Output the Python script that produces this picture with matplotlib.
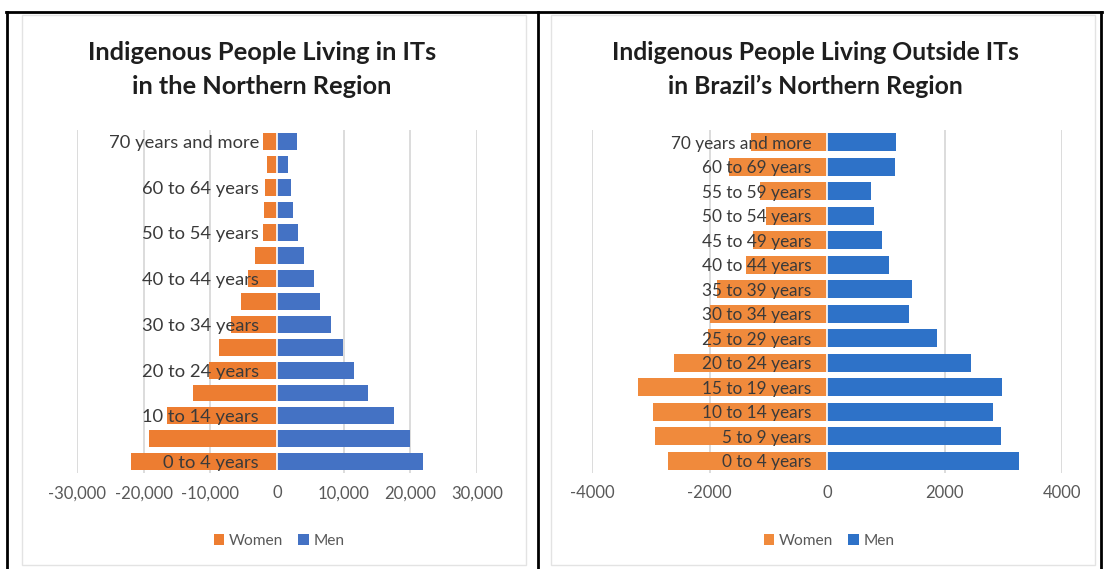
import numpy as np
import matplotlib
matplotlib.use("Agg")
import matplotlib.pyplot as plt
from matplotlib.lines import Line2D
from matplotlib.patches import Rectangle
from matplotlib.ticker import FuncFormatter

plt.rcParams['font.family'] = ['Lato', 'DejaVu Sans']

# --- data ---
its_ages = ["0 to 4 years", "5 to 9 years", "10 to 14 years", "15 to 19 years",
            "20 to 24 years", "25 to 29 years", "30 to 34 years", "35 to 39 years",
            "40 to 44 years", "45 to 49 years", "50 to 54 years", "55 to 59 years",
            "60 to 64 years", "65 to 69 years", "70 years and more"]
its_women = [21850, 19150, 16500, 12650, 10250, 8750, 6850, 5400,
             4300, 3300, 2150, 1900, 1800, 1450, 2150]
its_men = [21850, 19950, 17500, 13600, 11600, 9900, 8150, 6400,
           5500, 4050, 3100, 2450, 2100, 1600, 2950]

out_ages = ["0 to 4 years", "5 to 9 years", "10 to 14 years", "15 to 19 years",
            "20 to 24 years", "25 to 29 years", "30 to 34 years", "35 to 39 years",
            "40 to 44 years", "45 to 49 years", "50 to 54 years", "55 to 59 years",
            "60 to 69 years", "70 years and more"]
out_women = [2700, 2930, 2955, 3210, 2600, 2020, 2000, 1880,
             1380, 1265, 1030, 1140, 1660, 1290]
out_men = [3260, 2955, 2830, 2985, 2450, 1870, 1400, 1440,
           1060, 930, 800, 750, 1160, 1170]

W, H = 1104, 569
fig = plt.figure(figsize=(W / 100, H / 100), dpi=100)


def fx(px):
    return px / W


def fy(py):
    return 1 - py / H


def draw_pyramid(ax, ages, women, men, colors, xmax, step, fmt, label_step, pad, lsize):
    y = np.arange(len(ages))
    ax.barh(y, [-w for w in women], height=0.74, color=colors[0], label='Women', zorder=2)
    ax.barh(y, men, height=0.74, color=colors[1], label='Men', zorder=2)
    ax.set_xlim(-xmax, xmax)
    ax.set_ylim(-0.5, len(ages) - 0.5)
    ticks = np.arange(-xmax, xmax + 1, step)
    ax.set_xticks(ticks)
    ax.xaxis.set_major_formatter(FuncFormatter(fmt))
    for t in ticks:
        if t != 0:
            ax.axvline(t, color='#d9d9d9', lw=1.3, zorder=0)
    for s in ['top', 'right', 'bottom']:
        ax.spines[s].set_visible(False)
    ax.set_axisbelow(False)  # category labels sit on top of the bars
    ax.spines['left'].set_position(('data', 0))
    ax.spines['left'].set_color('white')
    ax.spines['left'].set_linewidth(1.2)
    ax.set_yticks(y[::label_step], ages[::label_step])
    ax.tick_params(axis='y', length=0, pad=pad, labelsize=lsize, labelcolor='#3a3a3a')
    ax.tick_params(axis='x', length=0, pad=9, labelsize=12, labelcolor='#595959')
    ax.set_facecolor('none')


# chart boxes (light grey frames)
for x0, x1 in [(22, 526), (551, 1095)]:
    fig.add_artist(Rectangle((fx(x0), fy(565)), fx(x1 - x0), (565 - 15) / H,
                             transform=fig.transFigure, fill=False,
                             edgecolor='#e3e3e3', lw=1.0))

ax1 = fig.add_axes([fx(77), fy(473), fx(400), 343 / H])
draw_pyramid(ax1, its_ages, its_women, its_men, ['#ED7D31', '#4472C4'],
             30000, 10000, lambda v, p: f"{int(v):,}", 2, 13, 13.2)

ax2 = fig.add_axes([fx(592), fy(473), fx(470), 343 / H])
draw_pyramid(ax2, out_ages, out_women, out_men, ['#F08A3C', '#2E72C8'],
             4000, 2000, lambda v, p: f"{int(v)}", 1, 11, 12.4)

# titles
title_kw = dict(ha='center', va='center', fontweight='bold', color='#1e1e1e')
fig.text(fx(262), fy(52), "Indigenous People Living in ITs", fontsize=18.3, **title_kw)
fig.text(fx(262), fy(86), "in the Northern Region", fontsize=18.3, **title_kw)
fig.text(fx(815), fy(52), "Indigenous People Living Outside ITs", fontsize=17.8, **title_kw)
fig.text(fx(815), fy(86), "in Brazil\u2019s Northern Region", fontsize=17.8, **title_kw)

# legends
for ax, cx in [(ax1, 279), (ax2, 829)]:
    ax.legend(loc='center', bbox_to_anchor=(fx(cx), fy(541)), bbox_transform=fig.transFigure,
              ncol=2, frameon=False, fontsize=11.2, labelcolor='#595959',
              handlelength=0.65, handleheight=0.65, handletextpad=0.3, columnspacing=1.0)

# table borders
line_kw = dict(transform=fig.transFigure, color='black', lw=2)
fig.add_artist(Line2D([fx(6), fx(1102)], [fy(12), fy(12)], **line_kw))
for xv in [7, 538, 1101]:
    fig.add_artist(Line2D([fx(xv), fx(xv)], [fy(12), 0], **line_kw))

fig.savefig("out.png", dpi=100)
